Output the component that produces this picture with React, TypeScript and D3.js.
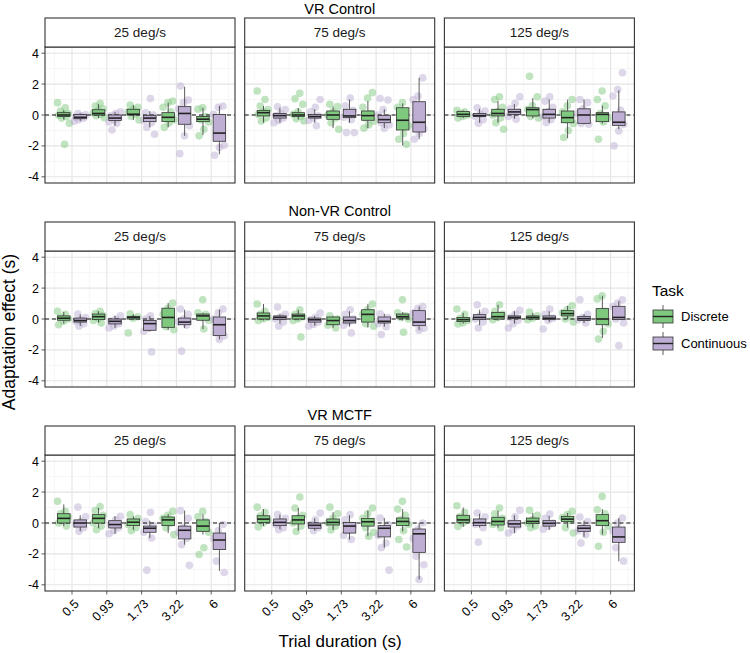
import * as d3 from "d3";
import React from "react";

const width = 750;
const height = 653;
const font = "'Liberation Sans', Arial, Helvetica, sans-serif";

// facet labels
const rowTitles = ["VR Control", "Non-VR Control", "VR MCTF"];
const speedLabels = ["25 deg/s", "75 deg/s", "125 deg/s"];
const durationLabels = ["0.5", "0.93", "1.73", "3.22", "6"];
const taskLabels = ["Discrete", "Continuous"];
const taskColors = ["#7fc97f", "#beaed4"];
const yTicks = [-4, -2, 0, 2, 4];

// box stats per box: [lower whisker, q1, median, q3, upper whisker]
// order: 0.5 Discrete, 0.5 Continuous, 0.93 Discrete, ... 6 Continuous
type Box = [number, number, number, number, number];

const vrControl25Box: Box[] = [
  [-0.3, -0.1, 0.0, 0.15, 0.3], [-0.4, -0.24, -0.15, 0.04, 0.1],
  [-0.2, 0.0, 0.1, 0.34, 0.7], [-0.7, -0.35, -0.2, 0.0, 0.2],
  [-0.32, 0.0, 0.05, 0.37, 0.65], [-0.8, -0.43, -0.2, -0.02, 0.25],
  [-0.8, -0.43, -0.15, 0.15, 0.8], [-1.35, -0.6, 0.1, 0.54, 1.83],
  [-1.3, -0.43, -0.27, -0.1, 0.47], [-2.54, -1.7, -1.17, 0.04, 0.58],
];
const vrControl25Pts = [
  [0.8, 0.47, 0.26, 0.1, 0.05, -0.02, -0.1, -0.2, -0.54, -1.9],
  [0.1, 0.02, -0.05, -0.15, -0.2, -0.3, -0.4],
  [0.75, 0.58, 0.4, 0.3, 0.15, 0.05, -0.05, -0.17],
  [0.2, 0.1, -0.05, -0.2, -0.3, -0.45, -0.54, -0.97],
  [0.65, 0.5, 0.35, 0.2, 0.05, -0.1, -0.32],
  [1.07, 0.15, 0.0, -0.2, -0.35, -0.5, -0.8, -1.25],
  [0.9, 0.8, 0.5, 0.2, -0.1, -0.3, -0.5, -0.8],
  [1.87, 0.97, 0.8, 0.4, 0.1, -0.3, -0.7, -1.35, -2.5],
  [0.47, 0.38, -0.1, -0.3, -0.45, -0.92, -1.35],
  [0.58, 0.5, 0.04, -0.6, -1.2, -1.96, -2.1, -2.6],
];

const vrControl75Box: Box[] = [
  [-0.5, -0.06, 0.15, 0.3, 0.58], [-0.5, -0.2, -0.04, 0.1, 0.47],
  [-0.3, -0.1, 0.0, 0.15, 0.45], [-0.5, -0.2, -0.1, 0.04, 0.37],
  [-0.85, -0.28, 0.0, 0.26, 0.55], [-0.5, -0.17, -0.06, 0.37, 1.0],
  [-0.85, -0.34, -0.04, 0.26, 0.9], [-0.85, -0.5, -0.3, -0.02, 0.37],
  [-1.96, -0.97, -0.34, 0.47, 0.75], [-1.57, -1.1, -0.47, 0.86, 2.4],
];
const vrControl75Pts = [
  [1.55, 1.0, 0.58, 0.35, 0.2, 0.05, -0.2, -0.39],
  [0.53, 0.35, 0.1, -0.05, -0.2, -0.35, -0.5],
  [1.4, 1.05, 0.7, 0.2, 0.05, -0.1, -0.25, -0.39],
  [1.0, 0.5, 0.2, -0.05, -0.2, -0.35, -0.7],
  [0.7, 0.55, 0.2, 0.0, -0.2, -0.5, -0.92],
  [1.1, 0.6, 0.3, 0.0, -0.15, -0.3, -1.14, -1.14],
  [1.45, 1.1, 0.5, 0.1, -0.2, -0.4, -0.65, -0.85],
  [1.07, 0.97, 0.35, 0.0, -0.3, -0.5, -0.65, -0.85],
  [0.8, 0.5, 0.0, -0.3, -0.7, -1.2, -1.57, -1.9],
  [2.4, 1.23, 1.0, 0.6, -0.3, -0.9, -1.2, -1.57],
];

const vrControl125Box: Box[] = [
  [-0.2, -0.1, 0.04, 0.22, 0.3], [-0.5, -0.1, -0.04, 0.1, 0.4],
  [-0.5, -0.06, 0.1, 0.37, 0.9], [-0.25, 0.04, 0.2, 0.37, 0.7],
  [-0.2, -0.06, 0.35, 0.47, 1.1], [-0.5, -0.2, 0.04, 0.37, 1.0],
  [-1.5, -0.5, -0.17, 0.26, 1.0], [-0.6, -0.54, 0.0, 0.4, 1.0],
  [-0.55, -0.43, 0.04, 0.15, 0.6], [-0.92, -0.67, -0.47, 0.2, 1.6],
];
const vrControl125Pts = [
  [0.3, 0.2, 0.1, 0.0, -0.1, -0.2],
  [0.47, 0.25, 0.05, -0.1, -0.3, -0.54],
  [1.18, 1.0, 0.5, 0.2, 0.0, -0.2, -0.5, -0.92],
  [1.18, 0.75, 0.4, 0.2, 0.05, -0.1, -0.28],
  [2.5, 1.18, 0.6, 0.35, 0.1, -0.1, -0.2],
  [1.18, 0.9, 0.5, 0.2, -0.1, -0.3, -0.5],
  [1.0, 0.6, 0.2, -0.1, -0.3, -0.55, -1.0, -1.46],
  [1.0, 0.8, 0.4, 0.1, -0.3, -0.55, -0.6],
  [1.55, 1.0, 0.6, 0.1, -0.2, -0.45, -1.57],
  [2.73, 1.65, 1.23, 0.3, -0.2, -0.6, -1.03, -2.0],
];

const nonVr25Box: Box[] = [
  [-0.3, -0.08, 0.05, 0.2, 0.45], [-0.45, -0.2, -0.1, 0.06, 0.3],
  [-0.25, -0.04, 0.15, 0.32, 0.5], [-0.58, -0.32, -0.15, 0.0, 0.2],
  [-0.05, 0.0, 0.1, 0.17, 0.3], [-0.8, -0.73, -0.3, -0.1, 0.2],
  [-0.7, -0.54, 0.1, 0.7, 1.03], [-0.58, -0.37, -0.2, 0.06, 0.6],
  [-0.65, -0.08, 0.2, 0.32, 0.4], [-1.33, -1.07, -0.37, 0.13, 0.6],
];
const nonVr25Pts = [
  [0.5, 0.3, 0.1, 0.0, -0.15, -0.37],
  [0.32, 0.1, -0.05, -0.15, -0.3, -0.47],
  [0.5, 0.35, 0.2, 0.05, -0.1, -0.26],
  [0.2, 0.0, -0.15, -0.3, -0.45, -0.58],
  [0.34, 0.15, 0.05, -0.9],
  [0.2, 0.0, -0.3, -0.6, -0.8, -2.13],
  [1.03, 0.7, 0.3, -0.2, -0.5, -0.7],
  [0.65, 0.3, 0.0, -0.2, -0.4, -2.08],
  [1.25, 0.4, 0.3, 0.1, -0.1, -0.65],
  [0.65, 0.4, 0.0, -0.4, -0.9, -1.1, -1.33],
];

const nonVr75Box: Box[] = [
  [-0.1, 0.0, 0.2, 0.39, 0.97], [-0.3, -0.04, 0.1, 0.2, 0.3],
  [-0.1, 0.0, 0.2, 0.32, 0.6], [-0.45, -0.2, -0.05, 0.06, 0.2],
  [-0.58, -0.37, -0.1, 0.13, 0.2], [-0.5, -0.26, -0.1, 0.13, 0.5],
  [-0.55, -0.2, 0.3, 0.6, 0.97], [-0.5, -0.26, -0.15, 0.13, 0.34],
  [-0.1, 0.06, 0.15, 0.32, 0.45], [-0.73, -0.43, -0.2, 0.54, 0.8],
];
const nonVr75Pts = [
  [0.97, 0.5, 0.3, 0.1, 0.0, -0.1],
  [0.77, 0.3, 0.15, 0.0, -0.2, -0.47],
  [0.6, 0.3, 0.15, 0.0, -0.1, -1.16],
  [0.39, 0.1, -0.05, -0.2, -0.35, -0.47],
  [0.2, 0.0, -0.2, -0.4, -0.58],
  [0.6, 0.3, 0.0, -0.2, -0.4, -0.9],
  [0.97, 0.6, 0.3, 0.0, -0.3, -0.47],
  [0.34, 0.1, -0.1, -0.3, -0.5, -1.0],
  [1.25, 0.4, 0.2, 0.1, 0.0, -0.86],
  [0.8, 0.7, 0.4, 0.0, -0.3, -0.6, -0.73],
];

const nonVr125Box: Box[] = [
  [-0.3, -0.17, -0.04, 0.1, 0.4], [-0.4, -0.04, 0.1, 0.28, 0.6],
  [-0.1, 0.0, 0.15, 0.43, 0.92], [-0.3, 0.02, 0.1, 0.2, 0.5],
  [-0.05, 0.0, 0.1, 0.2, 0.4], [-0.2, -0.04, 0.05, 0.2, 0.5],
  [0.0, 0.2, 0.35, 0.54, 0.86], [-0.26, -0.1, 0.02, 0.17, 0.3],
  [-1.23, -0.37, 0.0, 0.67, 1.5], [-0.04, -0.04, 0.1, 0.82, 1.15],
];
const nonVr125Pts = [
  [0.65, 0.3, 0.05, -0.1, -0.25, -0.32],
  [0.92, 0.5, 0.2, 0.0, -0.2, -0.58],
  [0.92, 0.5, 0.3, 0.1, -0.05],
  [0.56, 0.3, 0.1, -0.1, -0.3, -0.58],
  [0.45, 0.2, 0.05, -0.05],
  [0.65, 0.3, 0.05, -0.1, -0.65],
  [0.86, 0.6, 0.4, 0.2, 0.0, -0.2],
  [1.25, 0.3, 0.1, -0.05, -0.26],
  [1.5, 1.3, 0.5, 0.0, -0.3, -0.8, -1.3],
  [1.25, 1.03, 0.8, 0.3, 0.0, -0.26, -1.72],
];

const mctf25Box: Box[] = [
  [-0.2, 0.0, 0.3, 0.6, 1.2], [-0.54, -0.26, 0.0, 0.2, 0.5],
  [-0.33, 0.0, 0.3, 0.54, 0.97], [-0.7, -0.32, -0.1, 0.15, 0.43],
  [-0.43, -0.17, 0.05, 0.26, 0.43], [-0.97, -0.6, -0.34, -0.2, 0.15],
  [-0.65, -0.17, 0.2, 0.39, 0.58], [-1.4, -1.03, -0.47, -0.2, 0.8],
  [-0.75, -0.54, -0.2, 0.2, 0.55], [-3.1, -1.72, -1.1, -0.65, 0.0],
];
const mctf25Pts = [
  [1.4, 0.75, 0.6, 0.4, 0.2, 0.0, -0.2],
  [1.03, 0.4, 0.1, -0.1, -0.3, -0.54],
  [1.07, 0.8, 0.5, 0.2, 0.0, -0.2, -0.43],
  [0.43, 0.2, -0.05, -0.3, -0.5, -0.7],
  [0.54, 0.3, 0.1, -0.1, -0.3, -0.5],
  [0.7, 0.1, -0.2, -0.4, -0.6, -0.97, -3.05],
  [0.75, 0.5, 0.3, 0.0, -0.3, -0.75],
  [0.8, 0.3, -0.3, -0.6, -1.0, -1.4, -2.73],
  [0.75, 0.4, 0.1, -0.3, -0.6, -1.6, -2.04],
  [-0.1, -0.5, -1.0, -1.5, -2.47, -3.2],
];

const mctf75Box: Box[] = [
  [-0.2, 0.04, 0.25, 0.47, 0.9], [-0.4, -0.17, 0.04, 0.26, 0.54],
  [-0.5, -0.06, 0.2, 0.47, 0.97], [-0.5, -0.34, -0.15, 0.0, 0.3],
  [-0.45, -0.13, 0.04, 0.26, 0.7], [-1.07, -0.65, -0.2, 0.04, 0.5],
  [-0.86, -0.2, 0.08, 0.3, 0.8], [-1.6, -0.9, -0.34, -0.17, 0.32],
  [-0.55, -0.17, 0.1, 0.32, 0.9], [-3.66, -1.9, -0.7, -0.39, 0.0],
];
const mctf75Pts = [
  [1.03, 0.7, 0.45, 0.2, 0.0, -0.25],
  [0.54, 0.3, 0.1, -0.1, -0.3, -0.43],
  [1.68, 0.97, 0.5, 0.3, 0.0, -0.2, -0.55],
  [0.65, 0.2, -0.1, -0.3, -0.5],
  [1.03, 0.6, 0.3, 0.0, -0.2, -0.45],
  [0.54, 0.2, -0.2, -0.5, -0.8, -1.07],
  [0.97, 0.6, 0.3, 0.0, -0.3, -0.6, -0.86],
  [0.32, -0.1, -0.4, -0.8, -1.3, -1.6, -3.05],
  [1.4, 0.9, 0.5, 0.2, -0.1, -0.5, -1.07, -1.55],
  [0.0, -0.4, -1.0, -1.6, -2.15, -2.7, -3.66],
];

const mctf125Box: Box[] = [
  [-0.25, 0.04, 0.2, 0.5, 1.0], [-0.3, -0.17, 0.02, 0.26, 0.6],
  [-0.3, -0.13, 0.1, 0.37, 0.8], [-0.65, -0.26, -0.06, 0.15, 0.5],
  [-0.3, -0.04, 0.1, 0.32, 0.65], [-0.45, -0.2, -0.02, 0.15, 0.45],
  [-0.3, 0.1, 0.25, 0.43, 0.65], [-0.9, -0.54, -0.34, -0.17, 0.15],
  [-0.75, -0.17, 0.15, 0.54, 0.9], [-2.47, -1.25, -0.9, -0.26, 0.32],
];
const mctf125Pts = [
  [1.12, 0.7, 0.4, 0.2, 0.0, -0.22],
  [0.65, 0.4, 0.1, -0.1, -0.3, -1.25],
  [0.97, 0.6, 0.3, 0.1, -0.1, -0.3],
  [0.82, 0.4, 0.0, -0.2, -0.45, -0.65],
  [0.82, 0.5, 0.2, 0.0, -0.2, -0.3],
  [0.58, 0.3, 0.0, -0.2, -0.4],
  [0.75, 0.55, 0.35, 0.15, -0.3, -0.65],
  [0.39, 0.1, -0.3, -0.5, -0.75, -1.3],
  [1.72, 0.86, 0.6, 0.2, -0.2, -0.6, -1.5],
  [0.32, 0.0, -0.5, -1.0, -1.6, -2.47],
];

const boxGrid = [
  [vrControl25Box, vrControl75Box, vrControl125Box],
  [nonVr25Box, nonVr75Box, nonVr125Box],
  [mctf25Box, mctf75Box, mctf125Box],
];
const pointGrid = [
  [vrControl25Pts, vrControl75Pts, vrControl125Pts],
  [nonVr25Pts, nonVr75Pts, nonVr125Pts],
  [mctf25Pts, mctf75Pts, mctf125Pts],
];

// layout
const panelLeft = 45;
const panelW = 190;
const panelStep = 199.7;
const rowTops = [18, 222, 426];
const stripH = 29;
const panelH = 136;
const border = "#333333";

const x = d3.scaleLinear().domain([-0.776, 4.684]).range([0, panelW]);
const y = d3.scaleLinear().domain([-4.4, 4.4]).range([panelH, 0]);
const dodge = 0.236;
const boxHalf = 0.18;
const jitterW = 0.36;

const Panel = ({ boxes, points, label, showY, showX }) => {
  const majorX = d3.range(durationLabels.length);
  const minorX = d3.range(-0.5, durationLabels.length, 1);
  const minorY = [-3, -1, 1, 3];
  return (
    <g>
      <rect width={panelW} height={panelH} fill="white" />
      {minorY.map((v) => (
        <line key={"my" + v} x1={0} x2={panelW} y1={y(v)} y2={y(v)} stroke="#f0f0f0" strokeWidth={0.6} />
      ))}
      {minorX.map((v) => (
        <line key={"mx" + v} y1={0} y2={panelH} x1={x(v)} x2={x(v)} stroke="#f0f0f0" strokeWidth={0.6} />
      ))}
      {yTicks.map((v) => (
        <line key={"gy" + v} x1={0} x2={panelW} y1={y(v)} y2={y(v)} stroke="#e4e4e4" strokeWidth={1.1} />
      ))}
      {majorX.map((v) => (
        <line key={"gx" + v} y1={0} y2={panelH} x1={x(v)} x2={x(v)} stroke="#e4e4e4" strokeWidth={1.1} />
      ))}
      {points.map((vals, bi) => {
        const task = bi % 2;
        const cx = Math.floor(bi / 2) + (task === 0 ? -dodge : dodge);
        return vals.map((v, i) => (
          <circle
            key={bi + "-" + i}
            cx={x(cx + (((i * 0.618 + bi * 0.31) % 1) - 0.5) * jitterW)}
            cy={y(v)}
            r={3.8}
            fill={taskColors[task]}
            fillOpacity={0.5}
          />
        ));
      })}
      <line x1={0} x2={panelW} y1={y(0)} y2={y(0)} stroke="#111" strokeWidth={1} strokeDasharray="4,3" />
      {boxes.map((b, bi) => {
        const task = bi % 2;
        const c = Math.floor(bi / 2) + (task === 0 ? -dodge : dodge);
        const [lo, q1, med, q3, hi] = b;
        return (
          <g key={"b" + bi}>
            <line x1={x(c)} x2={x(c)} y1={y(hi)} y2={y(q3)} stroke={border} strokeWidth={0.8} />
            <line x1={x(c)} x2={x(c)} y1={y(q1)} y2={y(lo)} stroke={border} strokeWidth={0.8} />
            <rect
              x={x(c - boxHalf)}
              width={x(c + boxHalf) - x(c - boxHalf)}
              y={y(q3)}
              height={Math.max(0.5, y(q1) - y(q3))}
              fill={taskColors[task]}
              stroke={border}
              strokeWidth={0.8}
            />
            <line x1={x(c - boxHalf)} x2={x(c + boxHalf)} y1={y(med)} y2={y(med)} stroke="#222" strokeWidth={1.6} />
          </g>
        );
      })}
      <rect width={panelW} height={panelH} fill="none" stroke={border} strokeWidth={1.1} />
      <rect y={-stripH} width={panelW} height={stripH} fill="white" stroke={border} strokeWidth={1.1} />
      <text x={panelW / 2} y={-stripH / 2} dy="0.36em" textAnchor="middle" fontSize={13.5} fill="#1a1a1a">
        {label}
      </text>
      {showY &&
        yTicks.map((v) => (
          <g key={"ty" + v}>
            <line x1={-3.5} x2={0} y1={y(v)} y2={y(v)} stroke={border} strokeWidth={0.8} />
            <text x={-6} y={y(v)} dy="0.36em" textAnchor="end" fontSize={12.5} fill="#000">
              {v}
            </text>
          </g>
        ))}
      {showX &&
        majorX.map((v) => (
          <g key={"tx" + v}>
            <line x1={x(v)} x2={x(v)} y1={panelH} y2={panelH + 3.5} stroke={border} strokeWidth={0.8} />
            <text
              transform={`translate(${x(v) + 1},${panelH + 7}) rotate(-45)`}
              dy="0.75em"
              textAnchor="end"
              fontSize={12.5}
              fill="#000"
            >
              {durationLabels[v]}
            </text>
          </g>
        ))}
    </g>
  );
};

const LegendKey = ({ color, cy }) => (
  <g>
    <line x1={663} x2={663} y1={cy - 11.5} y2={cy + 11.5} stroke={border} strokeWidth={0.8} />
    <rect x={653} y={cy - 6.5} width={20} height={13} fill={color} stroke={border} strokeWidth={0.8} />
    <line x1={653} x2={673} y1={cy} y2={cy} stroke="#222" strokeWidth={1.4} />
  </g>
);

export default function App() {
  return (
    <svg
      width={width}
      height={height}
      style={{ display: "block", position: "absolute", left: 0, top: 0, fontFamily: font }}
    >
      <rect width={width} height={height} fill="white" />
      {rowTitles.map((title, r) => (
        <g key={title}>
          <text
            x={panelLeft + panelStep + panelW / 2}
            y={Math.max(rowTops[r] - 6, 13.5)}
            textAnchor="middle"
            fontSize={14.5}
            fill="#000"
          >
            {title}
          </text>
          {speedLabels.map((s, c) => (
            <g key={s} transform={`translate(${panelLeft + c * panelStep},${rowTops[r] + stripH})`}>
              <Panel
                boxes={boxGrid[r][c]}
                points={pointGrid[r][c]}
                label={s}
                showY={c === 0}
                showX={r === rowTitles.length - 1}
              />
            </g>
          ))}
        </g>
      ))}
      <text x={340} y={647} textAnchor="middle" fontSize={17} fill="#000">
        Trial duration (s)
      </text>
      <text transform="translate(15,332) rotate(-90)" textAnchor="middle" fontSize={17.5} fill="#000">
        Adaptation effect (s)
      </text>
      <text x={652} y={296} fontSize={15.5} fill="#000">
        Task
      </text>
      {taskLabels.map((t, i) => (
        <g key={t}>
          <LegendKey color={taskColors[i]} cy={316.5 + i * 27} />
          <text x={681} y={316.5 + i * 27} dy="0.36em" fontSize={13} fill="#000">
            {t}
          </text>
        </g>
      ))}
    </svg>
  );
}
